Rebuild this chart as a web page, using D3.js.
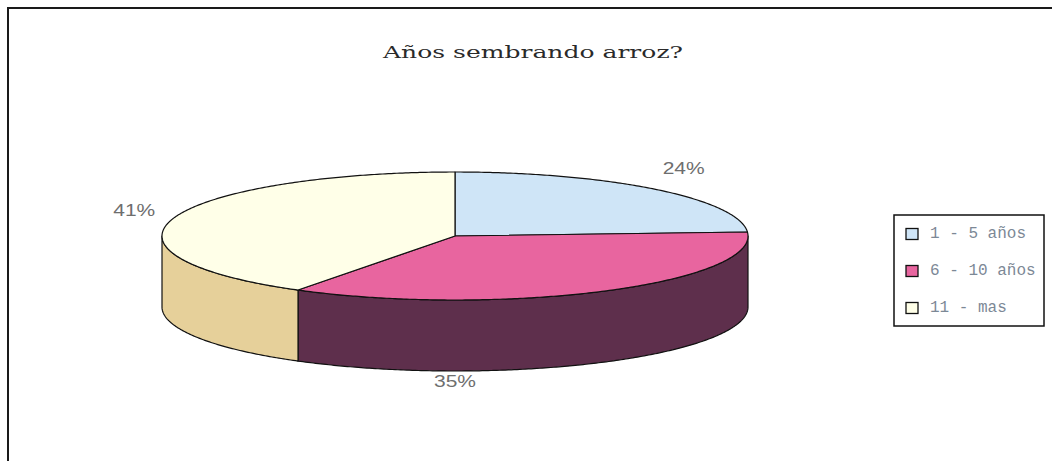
<!DOCTYPE html>
<html>
<head>
<meta charset="utf-8">
<script src="https://cdn.jsdelivr.net/npm/d3@7"></script>
<style>
  html, body { margin: 0; padding: 0; background: #fff; }
  svg { display: block; }
</style>
</head>
<body>
<svg id="chart" width="1052" height="461"></svg>
<script>
// ---- data ----
const title = "Años sembrando arroz?";
const categories = ["1 - 5 años", "6 - 10 años", "11 - mas"];
const values = [24, 35, 41];
const valueLabels = ["24%", "35%", "41%"];

// ---- styles ----
const topColors  = ["#CFE5F7", "#E8659F", "#FFFFE8"];
const sideColors = ["#9FB4C4", "#5E2F4C", "#E6D09A"];

const svg = d3.select("#chart");
const W = 1052, H = 461;

// outer frame (right / bottom edges fall outside the picture)
svg.append("path")
  .attr("d", `M8,${H + 5} L8,8 L${W + 5},8`)
  .attr("fill", "none").attr("stroke", "#1a1a1a").attr("stroke-width", 2);

// title
svg.append("text")
  .attr("x", 533).attr("y", 58)
  .attr("text-anchor", "middle")
  .attr("font-family", "'DejaVu Serif', 'Liberation Serif', serif")
  .attr("font-size", 17)
  .attr("fill", "#2a2a2a")
  .attr("textLength", 300).attr("lengthAdjust", "spacingAndGlyphs")
  .text(title);

// ---- 3D pie geometry ----
const cx = 455, cy = 236, rx = 293, ry = 64, depth = 71;
const xs = d3.scaleLinear().domain([-1, 1]).range([cx - rx, cx + rx]);
const ys = d3.scaleLinear().domain([-1, 1]).range([cy - ry, cy + ry]);

const arcs = d3.pie().sort(null).value(d => d)(values);

function pt(theta, dy = 0) {
  return [xs(Math.sin(theta)), ys(-Math.cos(theta)) + dy];
}
function arcPoints(a0, a1, dy = 0) {
  const n = Math.max(2, Math.ceil(Math.abs(a1 - a0) / 0.01));
  return d3.range(n + 1).map(i => pt(a0 + (a1 - a0) * i / n, dy));
}
const line = d3.line();

// side walls (front half only: angles between PI/2 and 3PI/2)
const sideG = svg.append("g");
arcs.forEach((a, i) => {
  const s = Math.max(a.startAngle, Math.PI / 2);
  const e = Math.min(a.endAngle, 3 * Math.PI / 2);
  if (e <= s) return;
  const pts = arcPoints(s, e, 0).concat(arcPoints(e, s, depth));
  sideG.append("path")
    .attr("d", line(pts) + "Z")
    .attr("fill", sideColors[i])
    .attr("stroke", "#111").attr("stroke-width", 1.2)
    .attr("stroke-linejoin", "round");
});

// top faces
const topG = svg.append("g");
arcs.forEach((a, i) => {
  const pts = [[cx, cy]].concat(arcPoints(a.startAngle, a.endAngle, 0));
  topG.append("path")
    .attr("d", line(pts) + "Z")
    .attr("fill", topColors[i])
    .attr("stroke", "#111").attr("stroke-width", 1.2)
    .attr("stroke-linejoin", "round");
});

// value labels
const labG = svg.append("g");
arcs.forEach((a, i) => {
  let x, y;
  const containsBottom = a.startAngle <= Math.PI && a.endAngle >= Math.PI;
  if (containsBottom) {
    x = xs(0);
    y = ys(1) + depth + 10;
  } else {
    const mid = (a.startAngle + a.endAngle) / 2;
    x = cx + rx * 1.14 * Math.sin(mid);
    y = cy - ry * 1.45 * Math.cos(mid);
  }
  labG.append("text")
    .attr("x", x).attr("y", y)
    .attr("text-anchor", "middle").attr("dominant-baseline", "central")
    .attr("font-family", "'Liberation Sans', Arial, sans-serif")
    .attr("font-size", 17)
    .attr("fill", "#6e6e6e")
    .attr("textLength", 42).attr("lengthAdjust", "spacingAndGlyphs")
    .text(valueLabels[i]);
});

// legend
const lg = svg.append("g");
lg.append("rect")
  .attr("x", 894).attr("y", 215).attr("width", 150).attr("height", 111)
  .attr("fill", "#fff").attr("stroke", "#111").attr("stroke-width", 1.5);
const rowY = d3.scalePoint().domain(categories).range([234, 308]);
categories.forEach((c, i) => {
  const y = rowY(c);
  lg.append("rect")
    .attr("x", 906).attr("y", y - 5.5).attr("width", 12).attr("height", 11)
    .attr("fill", topColors[i]).attr("stroke", "#111").attr("stroke-width", 1.3);
  lg.append("text")
    .attr("x", 930).attr("y", y)
    .attr("dominant-baseline", "central")
    .attr("font-family", "'Liberation Mono', 'Courier New', monospace")
    .attr("font-size", 16)
    .attr("fill", "#7c8896")
    .text(c);
});
</script>
</body>
</html>
